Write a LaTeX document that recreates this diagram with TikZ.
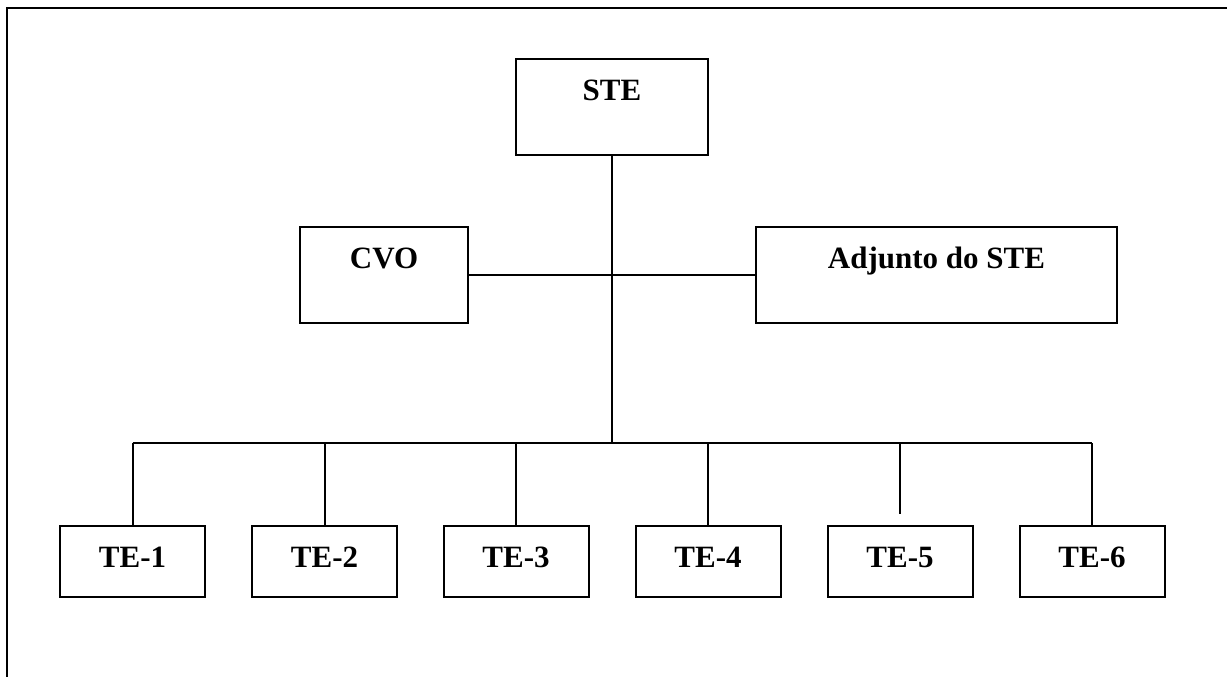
\documentclass[tikz,border=0pt]{standalone}
\usepackage{fontspec}
\setmainfont{Liberation Serif}

\begin{document}
\begin{tikzpicture}[x=0.5pt, y=-0.5pt, line width=1pt,
  every node/.style={font=\bfseries\fontsize{15.5}{18}\selectfont},
  box/.style={draw, rectangle, inner sep=0pt, text height=20.5pt},
  tallbox/.style={box, text depth=27.5pt},
  tebox/.style={box, text depth=15pt, minimum width=72.5pt}]
\useasboundingbox (0,0) rectangle (1227,676);

% page frame
\draw (7,680) -- (7,8) -- (1230,8);

\node[tallbox, minimum width=96pt] (ste) at (612,107) {STE};
\node[tallbox, minimum width=84pt] (cvo) at (384,275) {CVO};
\node[tallbox, minimum width=180.5pt] (adj) at (936.5,275) {Adjunto do STE};

\foreach \i/\x in {1/132.5,2/324.5,3/516,4/708,5/900,6/1092}
  \node[tebox] (te\i) at (\x,561.5) {TE-\i};

\coordinate (bus) at (612,443);
\draw (ste.south) -- (bus);
\draw (cvo) -- (adj);
\draw (te1.north |- bus) -- (te6.north |- bus);
\foreach \i in {1,2,3,4,6}
  \draw (te\i.north |- bus) -- (te\i.north);
\draw (te5.north |- bus) -- ([yshift=5.5pt]te5.north);
\end{tikzpicture}
\end{document}
